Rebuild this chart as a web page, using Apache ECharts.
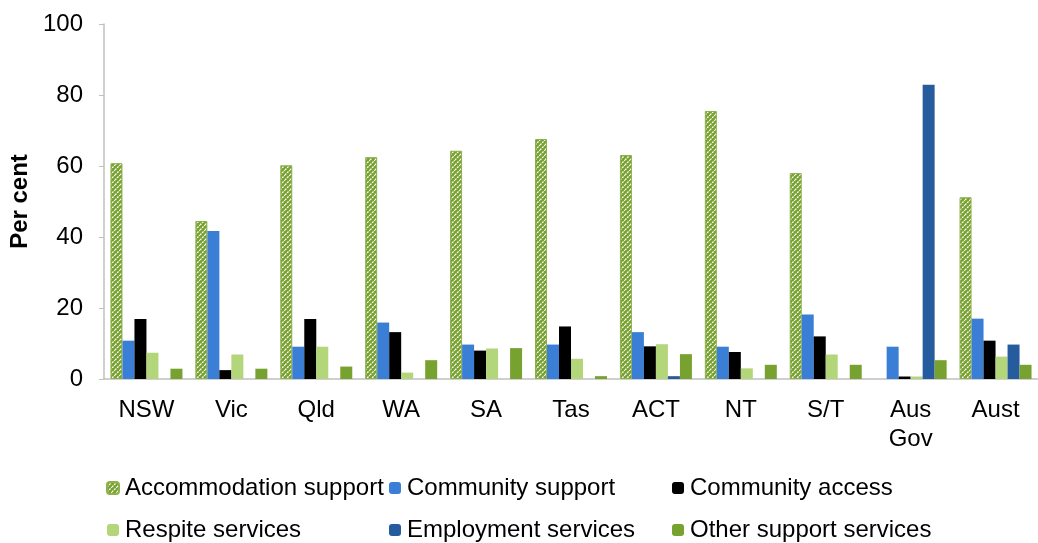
<!DOCTYPE html>
<html>
<head>
<meta charset="utf-8">
<script src="https://cdn.jsdelivr.net/npm/echarts@6/dist/echarts.min.js"></script>
<style>
  html, body { margin: 0; padding: 0; background: #fff; }
  #chart { width: 1038px; height: 543px; }
</style>
</head>
<body>
<div id="chart"></div>
<script>
var categories = ['NSW', 'Vic', 'Qld', 'WA', 'SA', 'Tas', 'ACT', 'NT', 'S/T', 'Aus\nGov', 'Aust']
var accommodation = [60.8, 44.5, 60.2, 62.5, 64.3, 67.6, 63.1, 75.5, 58.0, null, 51.2]
var communitySupport = [10.8, 41.7, 9.1, 15.9, 9.7, 9.7, 13.2, 9.1, 18.2, 9.1, 17.0]
var communityAccess = [16.9, 2.5, 16.9, 13.2, 8.0, 14.8, 9.2, 7.6, 12.0, 0.7, 10.8]
var respite = [7.4, 6.9, 9.1, 1.8, 8.6, 5.7, 9.8, 3.0, 6.9, 0.7, 6.3]
var employment = [null, null, null, null, null, null, 0.8, null, null, 82.9, 9.7]
var otherSupport = [2.9, 2.9, 3.5, 5.3, 8.7, 0.8, 7.0, 4.0, 4.0, 5.3, 4.0]
var yTicks = [0, 20, 40, 60, 80, 100]

var FONT = '"Liberation Sans", Arial, sans-serif'

// hatched fill for accommodation support
var hatch = document.createElement('canvas')
hatch.width = hatch.height = 5
var hctx = hatch.getContext('2d')
hctx.fillStyle = '#77a22f'
hctx.fillRect(0, 0, 5, 5)
hctx.strokeStyle = '#ffffff'
hctx.lineWidth = 1.3
hctx.setLineDash([2, 1])
;[-5, 0, 5].forEach(function(k) {
  hctx.beginPath()
  hctx.moveTo(k, 5)
  hctx.lineTo(k + 5, 0)
  hctx.stroke()
})

var chart = echarts.init(document.getElementById('chart'), null, { renderer: 'canvas' })

function bar(name, data, color, extra) {
  var s = {
    name: name,
    type: 'bar',
    data: data,
    barWidth: 12,
    barGap: '0%',
    itemStyle: { color: color },
    emphasis: { disabled: true }
  }
  if (extra) s.itemStyle = Object.assign(s.itemStyle, extra)
  return s
}

var legendBase = {
  orient: 'vertical',
  padding: 0,
  itemWidth: 12,
  itemHeight: 12,
  itemGap: 18,
  top: 476,
  selectedMode: false,
  textStyle: { fontFamily: FONT, fontSize: 24, color: '#000', lineHeight: 24, padding: [0, 0, 0, 1] }
}

chart.setOption({
  backgroundColor: '#fff',
  animation: false,
  grid: { left: 104, right: -5, top: 24, bottom: 164 },
  legend: [
    Object.assign({}, legendBase, { left: 106, data: ['Accommodation support', 'Respite services'] }),
    Object.assign({}, legendBase, { left: 389, data: ['Community support', 'Employment services'] }),
    Object.assign({}, legendBase, { left: 672, data: ['Community access', 'Other support services'] })
  ],
  xAxis: {
    type: 'category',
    data: categories,
    axisLine: { lineStyle: { color: '#c0c0c0', width: 1.5 } },
    axisTick: { show: false },
    axisLabel: { fontFamily: FONT, fontSize: 24, color: '#000', margin: 17, lineHeight: 29, interval: 0 }
  },
  yAxis: {
    type: 'value',
    min: 0,
    max: yTicks[yTicks.length - 1],
    interval: yTicks[1] - yTicks[0],
    name: 'Per cent',
    nameLocation: 'middle',
    nameGap: 67,
    nameTextStyle: { fontFamily: FONT, fontSize: 24, fontWeight: 'bold', color: '#000' },
    axisLine: { show: true, lineStyle: { color: '#c0c0c0', width: 1.5 } },
    axisTick: { show: true, inside: false, length: 5, lineStyle: { color: '#c0c0c0' } },
    splitLine: { show: false },
    axisLabel: { fontFamily: FONT, fontSize: 24, color: '#000', margin: 21 }
  },
  series: [
    bar('Accommodation support', accommodation, { image: hatch, repeat: 'repeat' }, { borderColor: '#8db04a', borderWidth: 1 }),
    bar('Community support', communitySupport, '#3a7fd5'),
    bar('Community access', communityAccess, '#000000'),
    bar('Respite services', respite, '#b3d67a'),
    bar('Employment services', employment, '#265c9e'),
    bar('Other support services', otherSupport, '#77a22f')
  ]
})
</script>
</body>
</html>
